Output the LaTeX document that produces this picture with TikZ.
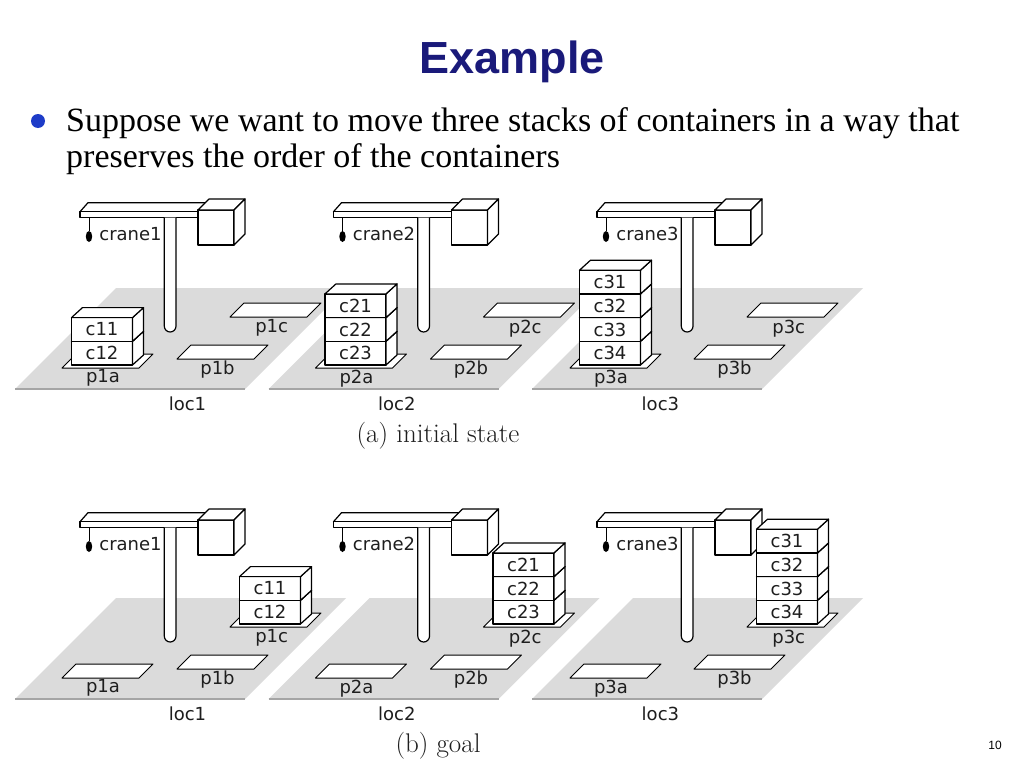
\documentclass[tikz,border=0pt]{standalone}
\usepackage{fontspec}
\newfontfamily\timesf{Liberation Serif}
\newfontfamily\arialf{Liberation Sans}
\newfontfamily\dejavu{DejaVu Sans}
\definecolor{titleblue}{RGB}{26,26,122}
\definecolor{bulletblue}{RGB}{30,60,200}
\definecolor{floorgray}{RGB}{219,219,219}
\definecolor{edgegray}{RGB}{165,165,165}
\definecolor{labelgray}{RGB}{30,30,30}
\tikzset{
  floorfill/.style={fill=floorgray, draw=none},
  flooredge/.style={draw=edgegray, line width=1.6pt},
  pilepad/.style={fill=white, draw=black, line width=1pt, line join=round},
  boxline/.style={fill=white, draw=black, line width=1.2pt, line join=round},
  lab/.style={font=\dejavu\fontsize{18}{18}\selectfont, text=labelgray, inner sep=0pt},
}
% floor of one location
\newcommand\floorat[2]{%
  \begin{scope}[shift={(#1,#2)}]
    \fill[floorfill] (0,0) -- (230,0) -- (331,-101) -- (101,-101) -- cycle;
    \draw[flooredge] (0,0) -- (230,0);
  \end{scope}}
% stack of containers, list from bottom to top, (#2,#3) = front-left bottom corner
\newcommand\stackat[4]{%
  \begin{scope}[shift={(#2,#3)}]
    \foreach \t [count=\i from 0] in {#4} {
      \begin{scope}[shift={(0,-\i*23.7)}]
        \draw[boxline] (0,0) rectangle (61,-23.7);
        \draw[boxline] (61,0) -- (72,-10) -- (72,-33.7) -- (61,-23.7) -- cycle;
        \draw[boxline] (0,-23.7) -- (11,-33.7) -- (72,-33.7) -- (61,-23.7) -- cycle;
        \node[lab] (#1\t) at (30.5,-11.85) {\t};
      \end{scope}
    }
  \end{scope}}
% one location: #1 prefix, #2 #3 origin, #4 x of pile a, #5 x of loc label, #6 number, #7 extra (stacks)
\newcommand\drawloc[7]{%
  \begin{scope}[shift={(#2,#3)}]
    % piles
    \coordinate (#1pa) at (#4,-21);
    \draw[pilepad] (#1pa) -- ++(77,0) -- ++(14,-14) -- ++(-77,0) -- cycle;
    \coordinate (#1pb) at (162,-30);
    \draw[pilepad] (#1pb) -- ++(77,0) -- ++(14,-14) -- ++(-77,0) -- cycle;
    \coordinate (#1pc) at (215,-72);
    \draw[pilepad] (#1pc) -- ++(77,0) -- ++(14,-14) -- ++(-77,0) -- cycle;
    \node[lab] (#1la) at (#4+41,-10.7) {p#6a};
    \node[lab] (#1lb) at (202.5,-19) {p#6b};
    \node[lab] (#1lc) at (256.7,-60.7) {p#6c};
    \node[lab] (#1loc) at (#5,14.3) {loc#6};
    % crane beam
    \draw[boxline] (65,-177.3) -- (73,-186.3) -- (191,-186.3) -- (183,-177.3) -- cycle;
    \draw[boxline] (65,-177.3) rectangle (183,-171.3);
    % hook
    \draw[line width=1pt] (74,-171.3) -- (74,-158);
    \fill (74,-152.5) ellipse [x radius=3.2, y radius=5.5];
    \node[lab] (#1crane) at (115.5,-155) {crane#6};
    % mast
    \draw[boxline] (149.3,-171.3) -- (149.3,-62.85) arc[start angle=180, end angle=0, radius=5.85] -- (161,-171.3);
    % cab
    \draw[boxline] (183,-179) rectangle (219,-144);
    \draw[boxline] (183,-179) -- (194,-190) -- (230,-190) -- (219,-179) -- cycle;
    \draw[boxline] (219,-179) -- (230,-190) -- (230,-155) -- (219,-144) -- cycle;
    #7
  \end{scope}}
\begin{document}
\begin{tikzpicture}[x=1pt, y=-1pt]
  \useasboundingbox (0,0) rectangle (1024,768);
  \fill[white] (0,0) rectangle (1024,768);
  % title and text
  \node[anchor=base, inner sep=0pt, text=titleblue] (title) at (512,73)
    {\arialf\bfseries\fontsize{45}{45}\selectfont Example};
  \node[circle, fill=bulletblue, minimum size=14pt, inner sep=0pt] (bullet) at (38,121) {};
  \node[anchor=base west, inner sep=0pt] (line1) at (66,131)
    {\timesf\fontsize{34}{34}\selectfont Suppose we want to move three stacks of containers in a way that};
  \node[anchor=base west, inner sep=0pt] (line2) at (66,167)
    {\timesf\fontsize{34}{34}\selectfont preserves the order of the containers};
  % floors
  \floorat{15}{389}\floorat{268.5}{389}\floorat{532}{389}
  \floorat{15}{699}\floorat{268.5}{699}\floorat{532}{699}
  % initial state
  \drawloc{ta}{15}{389}{47}{172.5}{1}{\stackat{ta}{56.5}{-24}{c12,c11}}
  \drawloc{tb}{268.5}{389}{47}{128.4}{2}{\stackat{tb}{56.5}{-24}{c23,c22,c21}}
  \drawloc{tc}{532}{389}{38}{128.4}{3}{\stackat{tc}{47.5}{-24}{c34,c33,c32,c31}}
  % goal
  \drawloc{ga}{15}{699}{47}{172.5}{1}{\stackat{ga}{224.5}{-75}{c12,c11}}
  \drawloc{gb}{268.5}{699}{47}{128.4}{2}{\stackat{gb}{224.5}{-75}{c23,c22,c21}}
  \drawloc{gc}{532}{699}{38}{128.4}{3}{\stackat{gc}{224.5}{-75}{c34,c33,c32,c31}}
  % captions
  \node[anchor=base, inner sep=0pt, text=labelgray] (capa) at (438,442)
    {\fontsize{27}{27}\selectfont (a) initial state};
  \node[anchor=base, inner sep=0pt, text=labelgray] (capb) at (438,752)
    {\fontsize{27}{27}\selectfont (b) goal};
  \node[anchor=base, inner sep=0pt] (pagenum) at (995,749)
    {\arialf\fontsize{12}{12}\selectfont 10};
\end{tikzpicture}
\end{document}
